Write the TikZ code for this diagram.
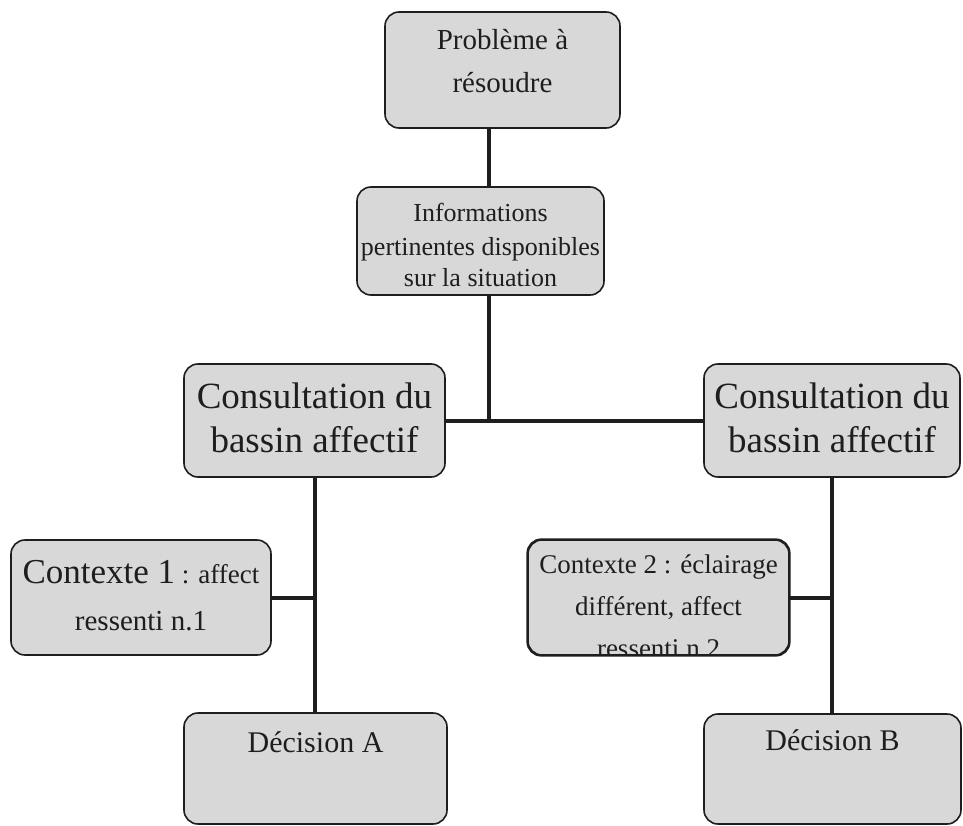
\documentclass[tikz,border=0pt]{standalone}
\usepackage{fontspec}
\setmainfont{Liberation Serif}
\definecolor{boxgray}{RGB}{216,216,216}
\definecolor{inkgray}{RGB}{30,30,30}
\begin{document}
\begin{tikzpicture}[x=1pt,y=-1pt,
  box/.style={draw=inkgray, line width=1.6pt, fill=boxgray,
    rounded corners=14pt, inner sep=0pt},
  link/.style={line width=4pt, draw=inkgray},
  lbl/.style={anchor=base, inner sep=0pt, text=inkgray}]
\useasboundingbox (0,0) rectangle (963,826);

% boxes
\node[box, minimum width=235pt, minimum height=116pt] (prob) at (502.5,70) {};
\node[box, minimum width=247pt, minimum height=108pt] (info) at (480.5,241) {};
\node[box, minimum width=261pt, minimum height=113pt] (consL) at (314.5,420.5) {};
\node[box, minimum width=256pt, minimum height=113pt] (consR) at (832,420.5) {};
\node[box, minimum width=260pt, minimum height=115pt] (ctx1) at (141,597.5) {};
\node[box, minimum width=261pt, minimum height=115pt] (ctx2) at (658.5,597.5) {};
\node[box, minimum width=263pt, minimum height=111pt] (decA) at (315.5,768.5) {};
\node[box, minimum width=257pt, minimum height=110pt] (decB) at (832.5,769) {};

% trunk positions of the connectors
\coordinate (trunk) at (489,0);
\coordinate (left) at (315,0);
\coordinate (right) at (832,0);

% connectors
\draw[link] (prob.south -| trunk) -- (info.north -| trunk);
\draw[link] (info.south -| trunk) -- (trunk |- consL.east);
\draw[link] (consL.east) -- (consR.west);
\draw[link] (consL.south -| left) -- (decA.north -| left);
\draw[link] (ctx1.east) -- (left |- ctx1.east);
\draw[link] (consR.south -| right) -- (decB.north -| right);
\draw[link] (ctx2.east) -- (right |- ctx2.east);

% texts
\node[lbl] (t1) at (502.5,50) {\fontsize{29}{35}\selectfont Problème à};
\node[lbl] (t2) at (502.5,93) {\fontsize{29}{35}\selectfont résoudre};

\node[lbl] (t3) at (480.5,222) {\fontsize{26}{30}\selectfont Informations};
\node[lbl] (t4) at (480.5,255) {\fontsize{26}{30}\selectfont pertinentes disponibles};
\node[lbl] (t5) at (480.5,287) {\fontsize{26}{30}\selectfont sur la situation};

\node[lbl] (t6) at (314.5,408) {\fontsize{37}{42}\selectfont Consultation du};
\node[lbl] (t7) at (314.5,452) {\fontsize{37}{42}\selectfont bassin affectif};
\node[lbl] (t8) at (832,408) {\fontsize{37}{42}\selectfont Consultation du};
\node[lbl] (t9) at (832,452) {\fontsize{37}{42}\selectfont bassin affectif};

\node[lbl] (t10) at (141,583) {\fontsize{35}{40}\selectfont Contexte 1\fontsize{27}{32}\selectfont{} : affect};
\node[lbl] (t11) at (141,630) {\fontsize{29}{32}\selectfont ressenti n.1};

\begin{scope}
  \clip[rounded corners=14pt] (ctx2.north west) rectangle (ctx2.south east);
  \node[lbl] (t12) at (658.5,573) {\fontsize{27}{32}\selectfont Contexte 2 : éclairage};
  \node[lbl] (t13) at (658.5,615) {\fontsize{27}{32}\selectfont différent, affect};
  \node[lbl] (t14) at (658.5,657) {\fontsize{27}{32}\selectfont ressenti n.2};
\end{scope}
\draw[draw=inkgray, line width=1.6pt, rounded corners=14pt]
  (ctx2.north west) rectangle (ctx2.south east);

\node[lbl] (t15) at (315.5,752) {\fontsize{30}{35}\selectfont Décision A};
\node[lbl] (t16) at (832.5,750) {\fontsize{30}{35}\selectfont Décision B};
\end{tikzpicture}
\end{document}
